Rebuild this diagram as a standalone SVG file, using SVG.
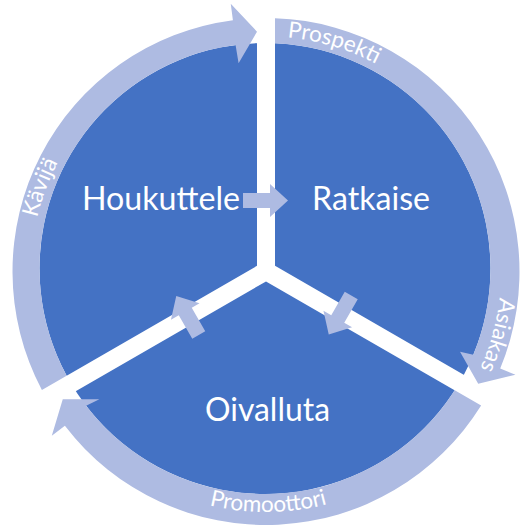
<svg xmlns="http://www.w3.org/2000/svg" width="530" height="532" viewBox="0 0 530 532">
  <style>
    .disk { fill: #4472C4; }
    .gap { fill: #FFFFFF; }
    .arrow { fill: #AEBBE2; }
    .label { fill: #FFFFFF; font-family: Lato, "Liberation Sans", sans-serif; font-size: 32px; }
    .ring-label { fill: #FFFFFF; font-family: Lato, "Liberation Sans", sans-serif; font-size: 22.5px; }
  </style>
  <defs>
    <path id="cw" d="M31,271.5 A235,235 0 1 1 501,271.5 A235,235 0 1 1 31,271.5"/>
    <path id="ccw" d="M25.5,271.5 A240.5,240.5 0 1 0 506.5,271.5"/>
    <path id="small-arrow" d="M-22.5,-7.5 H4.5 V-16.5 L22.5,0 L4.5,16.5 V7.5 H-22.5 Z"/>
  </defs>

  <g id="background">
    <ellipse class="disk" cx="265" cy="268.5" rx="225.5" ry="225.5"/>
    <polygon class="gap" transform="translate(266,271)" points="9,-285 9,-5.196 251.32,134.71 242.32,150.29 0,10.392 -242.32,150.29 -251.32,134.71 -9,-5.196 -9,-285"/>
  </g>

  <g id="node-houkuttele">
    <text class="label" x="82" y="210" textLength="158" lengthAdjust="spacingAndGlyphs">Houkuttele</text>
  </g>
  <g id="node-ratkaise">
    <text class="label" x="312" y="210" textLength="118" lengthAdjust="spacingAndGlyphs">Ratkaise</text>
  </g>
  <g id="node-oivalluta">
    <text class="label" x="205" y="421" textLength="125" lengthAdjust="spacingAndGlyphs">Oivalluta</text>
  </g>

  <g id="connectors">
    <!-- ring arrows -->
    <path class="arrow" d="M275,18.16 A253.5,253.5 0 0 1 500.20,368.51 L515.45,374.82 L478.22,383.63 L460.01,351.86 L473.33,354.79 A225.5,225.5 0 0 0 275,43.22 Z"/>
    <path class="arrow" d="M481.12,405.59 A253.5,253.5 0 0 1 64.89,425.82 L51.79,435.87 L62.76,399.17 L99.40,399.34 L86.10,405.78 A225.5,225.5 0 0 0 454.73,390.36 Z"/>
    <path class="arrow" d="M41.9,389.99 A253.5,253.5 0 0 1 232.91,20.17 L230.76,3.81 L257.0,31.67 L238.59,63.30 L235.57,44.93 A225.5,225.5 0 0 0 66.62,375.72 Z"/>
    <!-- inner arrows -->
    <use href="#small-arrow" class="arrow" transform="translate(265.5,200.5)"/>
    <use href="#small-arrow" class="arrow" transform="translate(340,315) rotate(120)"/>
    <use href="#small-arrow" class="arrow" transform="translate(187.5,315.5) rotate(240)"/>
    <!-- ring labels -->
    <text class="ring-label" text-anchor="middle"><textPath href="#cw" startOffset="437">Prospekti</textPath></text>
    <text class="ring-label" text-anchor="middle"><textPath href="#cw" startOffset="801">Asiakas</textPath></text>
    <text class="ring-label" text-anchor="middle"><textPath href="#cw" startOffset="84">Kävijä</textPath></text>
    <text class="ring-label" text-anchor="middle"><textPath href="#ccw" startOffset="380">Promoottori</textPath></text>
  </g>
</svg>
